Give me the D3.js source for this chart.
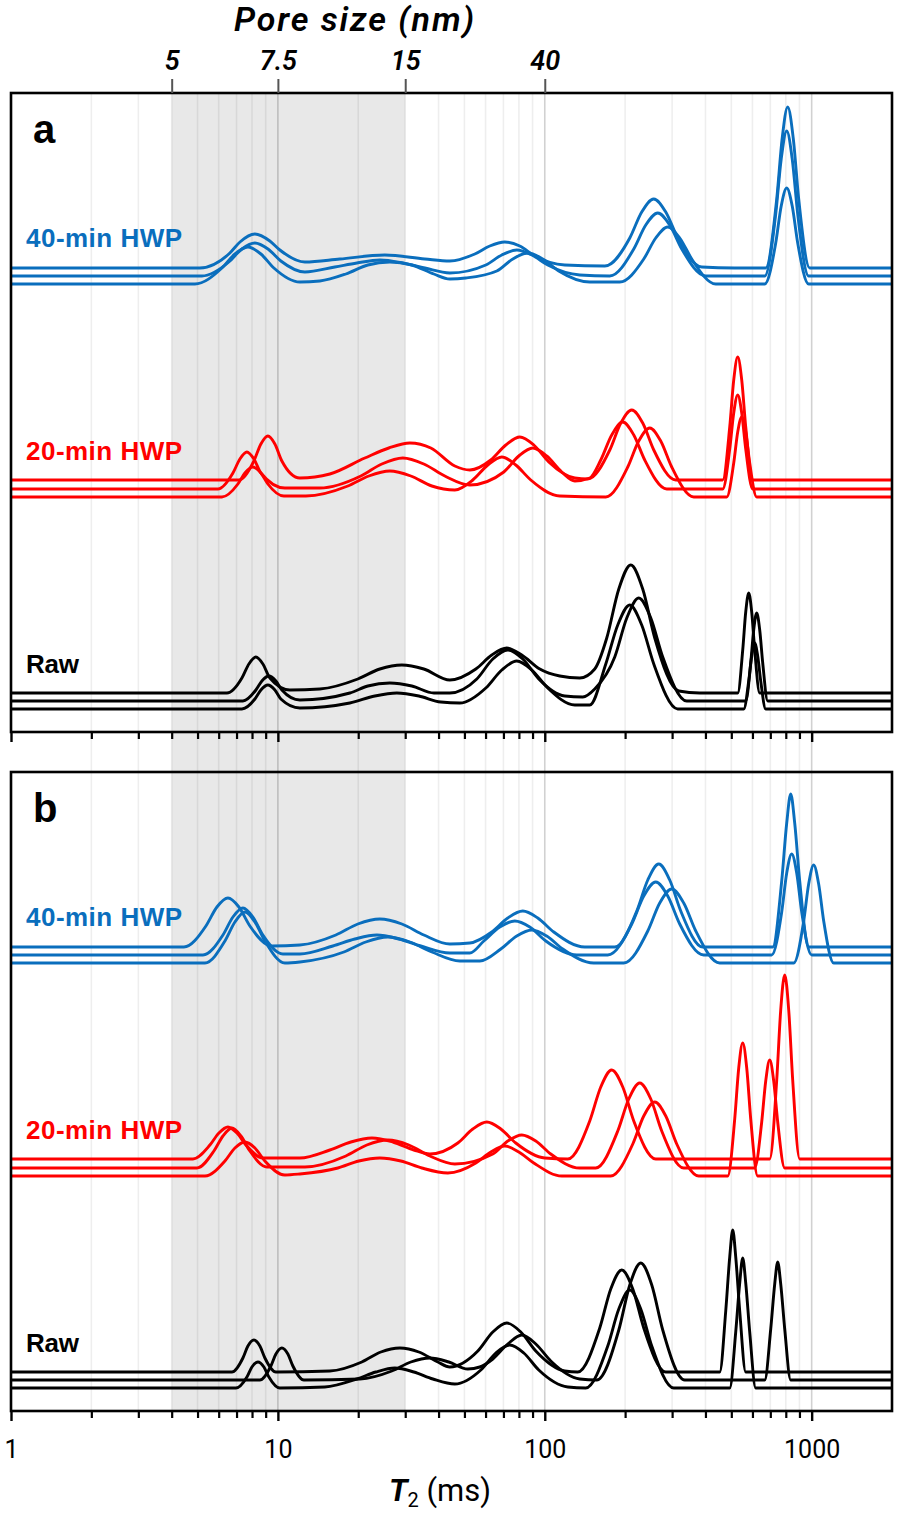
<!DOCTYPE html>
<html><head><meta charset="utf-8">
<script src="https://cdn.jsdelivr.net/npm/d3@7"></script>
<style>html,body{margin:0;padding:0;background:#fff}svg{display:block}</style>
</head><body>
<svg id="chart" width="898" height="1514"></svg>
<script>
// ---------------- data ----------------
const xMajorTicks = [1, 10, 100, 1000];
const xMajorLabels = ["1", "10", "100", "1000"];
const poreTickT2 = [4, 10, 30, 100];
const poreTickLabels = ["5", "7.5", "15", "40"];
const shadeT2 = [4, 30];
const groupNames = ["40-min HWP", "20-min HWP", "Raw"];
const groupColors = ["#0a6ebd", "#ff0000", "#000000"];
// vertical display offsets (a.u.) of the three replicate curves in each group
const offsetsBlue = [464, 456, 448];
const offsetsRed = [252, 243, 235];
const offsetsBlack = [39, 31, 23];

// Panel a — 40-min HWP  [T2 (ms), amplitude (a.u.)]
const a40_1 = [[1,0],[5.10,0],[6.61,15],[7.21,26],[8.20,34],[9.33,27],[10.17,18],[12.62,6],[17.07,9],[25.16,13],[35.53,9],[44.08,7],[54.69,14],[62.23,22],[70.83,26],[80.61,22],[91.75,12],[118.8,3],[167.8,2],[208.2,30],[230.8,56],[256.0,69],[284.0,56],[314.9,30],[387.3,1],[514.9,0],[672.8,0],[739.8,69],[775.7,130],[813.2,161],[852.9,130],[894.2,69],[983,0],[2000,0]];
const a40_2 = [[1,0],[5.19,0],[6.55,14],[7.33,27],[8.20,33],[9.18,27],[10.26,15],[12.62,4],[16.35,9],[19.77,13],[24.10,16],[29.39,13],[35.53,8],[44.08,3],[60.14,11],[69.02,21],[78.55,26],[89.40,21],[102.6,11],[135.2,1],[175.2,0],[215.5,27],[239.0,51],[265.1,63],[293.9,51],[326.0,27],[401.0,0],[667.0,0],[733.4,62],[769.0,117],[806.4,145],[845.6,117],[886.6,62],[974.5,0],[2000,0]];
const a40_3 = [[1,0],[4.888,0],[6.171,16],[6.903,30],[7.721,37],[8.637,30],[9.661,16],[12.09,2],[14.36,3],[17.98,10],[21.73,19],[26.27,22],[31.76,19],[38.41,10],[44.08,5],[50.61,6],[66.11,13],[75.89,25],[86.37,31],[98.29,25],[112.8,13],[147.4,2],[191.0,2],[234.9,25],[260.5,46],[288.9,57],[320.4,46],[355.4,25],[437.1,0],[667.0,0],[733.4,41],[769.0,78],[806.4,96],[845.6,78],[886.6,41],[974.5,0],[2000,0]];
// Panel a — 20-min HWP
const a20_1 = [[1,0],[7.144,0],[8.130,19],[8.637,36],[9.173,44],[9.745,36],[10.35,19],[12.09,2],[15.66,6],[21.17,22],[26.04,32],[31.22,37],[37.42,32],[46.02,14],[52.38,10],[62.77,20],[71.45,35],[80.61,43],[90.96,35],[103.5,18],[129.6,2],[144.9,1],[175.2,30],[192.7,57],[211.8,70],[232.8,57],[256.1,30],[309.6,0],[464.3,0],[493.2,53],[510.5,100],[528.4,123],[547.0,100],[566.2,53],[601.3,0],[2000,0]];
const a20_2 = [[1,0],[5.961,0],[6.785,16],[7.206,30],[7.655,37],[8.130,30],[8.637,16],[10.62,1],[14.36,1],[20.46,13],[24.52,25],[29.39,31],[35.22,25],[42.22,13],[52.38,4],[70.22,17],[79.92,33],[90.18,41],[101.7,33],[115.8,17],[129.6,8],[147.4,11],[162.1,29],[178.2,54],[196.0,67],[215.5,54],[236.9,29],[286.4,0],[464.3,0],[493.2,40],[510.5,76],[528.4,94],[547.0,76],[566.2,40],[601.3,0],[2000,0]];
const a20_3 = [[1,0],[6.171,0],[7.083,13],[7.524,24],[8.061,30],[8.637,24],[9.173,13],[10.53,1],[12.73,1],[18.29,11],[21.92,21],[26.27,26],[31.49,21],[37.75,11],[46.02,7],[53.75,17],[61.17,32],[69.02,40],[77.88,32],[88.63,17],[113.8,1],[169.3,0],[204.6,30],[224.9,56],[247.4,69],[271.9,56],[299.0,30],[361.6,0],[480.6,0],[510.5,34],[528.4,65],[547.0,80],[566.2,65],[586.0,34],[622.4,0],[2000,0]];
// Panel a — Raw
const aRaw_1 = [[1,0],[6.443,0],[7.331,15],[7.787,29],[8.272,36],[8.787,29],[9.333,15],[11.09,3],[14.36,4],[19.93,14],[24.10,24],[29.14,28],[35.22,24],[44.08,13],[55.17,24],[63.31,38],[72.06,45],[82.01,38],[95.79,24],[113.8,17],[135.2,15],[153.9,24],[170.7,55],[189.4,104],[210.0,128],[232.8,104],[258.3,55],[317.6,2],[380.7,0],[528.4,0],[551.7,43],[566.2,81],[581.0,100],[596.2,81],[611.8,43],[638.8,0],[2000,0]];
const aRaw_2 = [[1,0],[7.395,0],[8.272,11],[8.711,20],[9.253,25],[9.830,20],[10.35,11],[12.09,1],[18.61,8],[21.73,15],[26.27,18],[31.76,15],[38.41,8],[44.08,8],[55.64,22],[63.87,42],[72.68,51],[82.73,42],[94.96,22],[118.8,5],[138.8,4],[153.9,12],[182.9,44],[202.9,83],[224.9,103],[249.6,83],[276.7,44],[340.3,0],[566.2,0],[591.1,38],[606.5,71],[622.4,88],[638.8,71],[655.6,38],[684.5,0],[2000,0]];
const aRaw_3 = [[1,0],[7.331,0],[8.201,10],[8.637,19],[9.173,24],[9.745,19],[10.26,10],[12.09,1],[18.61,6],[23.08,13],[27.91,16],[33.74,13],[40.79,7],[48.05,6],[60.14,21],[69.02,39],[78.55,48],[89.40,39],[102.6,21],[129.6,4],[147.4,4],[169.3,45],[187.7,84],[208.2,104],[230.8,84],[256.1,45],[314.9,0],[556.5,0],[581.0,28],[596.2,53],[611.8,66],[627.8,53],[644.4,28],[672.8,0],[2000,0]];

// Panel b — 40-min HWP
const b40_1 = [[1,0],[4.445,0],[5.375,21],[5.910,40],[6.498,49],[7.144,40],[7.855,21],[9.495,1],[12.09,2],[16.49,12],[19.93,23],[24.10,28],[29.14,23],[35.22,12],[44.08,3],[52.38,4],[63.31,15],[72.68,29],[82.73,36],[94.15,29],[108.1,15],[141.2,0],[182.9,0],[221.2,36],[243.2,67],[267.3,83],[293.9,67],[323.2,36],[390.7,0],[714.7,0],[772.3,66],[806.4,124],[834.7,153],[863.9,124],[902.0,66],[974.5,0],[2000,0]];
const b40_2 = [[1,0],[5.238,0],[6.225,20],[6.785,38],[7.395,47],[8.061,38],[8.787,20],[10.44,1],[12.09,1],[16.07,9],[19.43,16],[23.48,20],[28.39,16],[34.33,9],[44.08,2],[52.38,2],[59.11,14],[67.84,28],[77.21,34],[87.87,28],[100.9,14],[131.9,0],[172.2,0],[211.8,31],[234.9,59],[260.5,73],[288.9,59],[320.4,31],[394.1,0],[708.5,0],[772.3,43],[806.4,82],[841.9,101],[878.9,82],[917.7,43],[1000.1,0],[2000,0]];
const b40_3 = [[1,0],[5.329,0],[6.333,22],[6.903,41],[7.524,51],[8.201,41],[8.940,22],[10.62,0],[12.09,1],[17.67,11],[21.35,21],[25.82,26],[31.22,21],[37.75,11],[48.05,2],[57.10,2],[68.43,14],[78.55,27],[89.40,33],[101.7,27],[116.8,14],[152.6,0],[197.7,0],[243.2,32],[269.6,60],[299.0,74],[331.6,60],[367.9,32],[452.4,0],[856.5,0],[933.7,42],[974.5,79],[1017.6,98],[1062.3,79],[1109.4,42],[1209.5,0],[2000,0]];
// Panel b — 20-min HWP
const b20_1 = [[1,0],[4.804,0],[5.564,14],[6.013,26],[6.498,32],[7.023,26],[7.589,14],[8.787,1],[12.09,1],[15.66,9],[18.77,17],[22.50,21],[26.96,17],[32.32,9],[37.10,5],[47.23,16],[53.75,30],[60.66,37],[68.43,30],[77.88,16],[100.0,1],[122.0,0],[147.4,38],[162.1,72],[178.2,89],[196.0,72],[215.5,38],[260.5,0],[696.4,0],[739.8,79],[765.7,149],[792.6,184],[820.4,149],[849.1,79],[902.0,0],[2000,0]];
const b20_2 = [[1,0],[4.973,0],[5.759,17],[6.225,32],[6.726,40],[7.269,32],[7.855,17],[9.095,1],[12.62,1],[17.98,12],[21.54,23],[25.82,28],[30.95,23],[37.10,12],[46.02,4],[63.87,14],[72.68,27],[82.01,33],[92.55,27],[105.3,14],[135.2,0],[155.2,0],[187.7,37],[206.4,69],[226.9,85],[249.6,69],[274.3,37],[331.6,0],[611.8,0],[649.9,46],[672.8,87],[696.4,108],[720.8,87],[746.1,46],[792.6,0],[2000,0]];
const b20_3 = [[1,0],[5.329,0],[6.333,15],[6.903,28],[7.524,34],[8.201,28],[8.940,15],[10.62,1],[12.09,2],[16.78,8],[20.11,15],[24.10,18],[28.89,15],[34.62,8],[43.33,3],[55.17,13],[62.77,24],[70.83,30],[79.92,24],[90.96,13],[115.8,0],[176.7,0],[213.7,32],[234.9,60],[258.3,74],[284.0,60],[312.2,32],[377.4,0],[484.8,0],[514.9,57],[533.0,108],[551.7,133],[571.1,108],[591.1,57],[627.8,0],[2000,0]];
// Panel b — Raw
const bRaw_1 = [[1,0],[6.726,0],[7.395,14],[7.721,26],[8.130,32],[8.562,26],[8.940,14],[9.830,0],[15.66,1],[20.63,10],[24.31,20],[28.64,24],[33.74,20],[39.75,10],[44.08,5],[56.12,21],[63.87,40],[72.06,49],[81.31,40],[92.55,21],[118.8,1],[132.9,0],[160.7,44],[176.7,83],[194.3,102],[213.7,83],[234.9,44],[284.0,0],[452.4,0],[476.5,61],[493.2,115],[506.1,142],[519.4,115],[537.6,61],[566.2,0],[2000,0]];
const bRaw_2 = [[1,0],[8.562,0],[9.414,14],[9.830,26],[10.35,32],[10.90,26],[11.38,14],[12.51,0],[20.28,1],[26.73,9],[31.49,18],[37.10,22],[43.70,18],[51.48,11],[57.10,13],[63.87,21],[72.68,36],[82.01,45],[92.55,36],[105.3,19],[135.2,1],[156.6,0],[189.4,50],[208.2,95],[228.9,117],[251.7,95],[276.7,50],[334.5,0],[667.0,0],[702.5,51],[727.1,96],[746.1,118],[765.7,96],[792.6,51],[834.7,0],[2000,0]];
const bRaw_3 = [[1,0],[6.963,0],[7.655,11],[7.992,21],[8.416,26],[8.863,21],[9.253,11],[10.17,0],[14.99,1],[19.77,9],[23.28,16],[27.43,20],[32.32,16],[38.08,9],[46.02,4],[57.60,18],[65.55,35],[73.95,43],[83.44,35],[94.96,18],[122.0,1],[142.4,0],[172.2,42],[189.4,79],[208.2,98],[228.9,79],[251.7,42],[304.3,0],[493.2,0],[519.4,56],[537.6,105],[551.7,130],[566.2,105],[586.0,56],[617.1,0],[2000,0]];

// ---------------- layout ----------------
const W = 898, H = 1514;
const left = 11, right = 892;
const panels = [
  { letter: "a", top: 93, bottom: 732, labels: false,
    series: [[a40_1, a40_2, a40_3], [a20_1, a20_2, a20_3], [aRaw_1, aRaw_2, aRaw_3]] },
  { letter: "b", top: 772, bottom: 1411, labels: true,
    series: [[b40_1, b40_2, b40_3], [b20_1, b20_2, b20_3], [bRaw_1, bRaw_2, bRaw_3]] }
];
const groupOffsets = [offsetsBlue, offsetsRed, offsetsBlack];
const labelDy = [154, 367, 580]; // label baselines relative to panel top

const svg = d3.select("#chart");
svg.append("rect").attr("width", W).attr("height", H).attr("fill", "#fff");

const x = d3.scaleLog().domain([1, 2000]).range([left, right]);

const allTicks = [];
[1, 10, 100, 1000].forEach(d => { for (let k = 1; k <= 9; k++) { const v = d * k; if (v < 2000) allTicks.push(v); } });
const minorTicks = allTicks.filter(v => !xMajorTicks.includes(v));

const topY = panels[0].top, botY = panels[1].bottom;

// shaded band
svg.append("rect")
  .attr("x", x(shadeT2[0])).attr("y", topY)
  .attr("width", x(shadeT2[1]) - x(shadeT2[0])).attr("height", botY - topY)
  .attr("fill", "#e8e8e8");

// vertical grid lines
svg.append("g").selectAll("line").data(allTicks.filter(v => v > 1)).join("line")
  .attr("x1", d => x(d)).attr("x2", d => x(d))
  .attr("y1", topY).attr("y2", botY)
  .attr("stroke", d => xMajorTicks.includes(d) ? "rgba(0,0,0,0.18)" : "rgba(0,0,0,0.065)")
  .attr("stroke-width", 1.6);

panels.forEach(p => {
  const y = d3.scaleLinear().domain([0, p.bottom - p.top]).range([p.bottom, p.top]);
  const g = svg.append("g");
  p.series.forEach((grp, gi) => {
    grp.forEach((s, si) => {
      const off = groupOffsets[gi][si];
      const line = d3.line().x(d => x(d[0])).y(d => y(off + d[1])).curve(d3.curveMonotoneX);
      g.append("path").datum(s).attr("d", line)
        .attr("fill", "none").attr("stroke", groupColors[gi])
        .attr("stroke-width", 2.9).attr("stroke-linejoin", "round");
    });
    g.append("text").attr("x", 26).attr("y", p.top + labelDy[gi])
      .attr("fill", groupColors[gi])
      .attr("font-family", "'Liberation Sans', Arial, sans-serif")
      .attr("font-weight", "bold").attr("font-size", 26)
      .attr("textLength", groupNames[gi].length > 3 ? 156 : 53).attr("lengthAdjust", "spacing")
      .text(groupNames[gi]);
  });
  svg.append("rect").attr("x", left).attr("y", p.top)
    .attr("width", right - left).attr("height", p.bottom - p.top)
    .attr("fill", "none").attr("stroke", "#000").attr("stroke-width", 2.6);
  svg.append("text").attr("x", 33).attr("y", p.top + 50)
    .attr("font-family", "'Liberation Sans', Arial, sans-serif")
    .attr("font-weight", "bold").attr("font-size", 40).attr("fill", "#000")
    .text(p.letter);
  const minorAxis = svg.append("g").attr("transform", `translate(0,${p.bottom})`)
    .call(d3.axisBottom(x).tickValues(minorTicks).tickSize(7).tickFormat(""));
  minorAxis.select(".domain").remove();
  minorAxis.selectAll("line").attr("stroke", "#000").attr("stroke-width", 2.2);
  const majorAxis = svg.append("g").attr("transform", `translate(0,${p.bottom})`)
    .call(d3.axisBottom(x).tickValues(xMajorTicks).tickSize(10).tickPadding(19)
      .tickFormat((d, i) => p.labels ? xMajorLabels[i] : ""));
  majorAxis.select(".domain").remove();
  majorAxis.selectAll("line").attr("stroke", "#000").attr("stroke-width", 2.4);
  majorAxis.selectAll("text").attr("font-family", "Roboto, sans-serif")
    .attr("font-size", 25).attr("fill", "#000");
});

// top pore-size axis
const topAxis = svg.append("g").attr("transform", `translate(0,${topY})`)
  .call(d3.axisTop(x).tickValues(poreTickT2).tickSize(14).tickPadding(9)
    .tickFormat((d, i) => poreTickLabels[i]));
topAxis.select(".domain").remove();
topAxis.selectAll("line").attr("stroke", "#555").attr("stroke-width", 2);
topAxis.selectAll("text").attr("font-family", "Roboto, sans-serif")
  .attr("font-style", "italic").attr("font-weight", 600)
  .attr("font-size", 27).attr("fill", "#000");

svg.append("text").attr("x", 354).attr("y", 31).attr("text-anchor", "middle")
  .attr("font-family", "Roboto, sans-serif").attr("font-style", "italic")
  .attr("font-weight", 600).attr("font-size", 34)
  .attr("textLength", 240).attr("lengthAdjust", "spacing")
  .text("Pore size (nm)");

const t = svg.append("text").attr("x", 440).attr("y", 1501).attr("text-anchor", "middle")
  .attr("font-family", "Roboto, sans-serif").attr("font-size", 31).attr("fill", "#000");
t.append("tspan").attr("font-weight", "bold").attr("font-style", "italic").text("T");
t.append("tspan").attr("font-size", 20).attr("dy", 6).text("2");
t.append("tspan").attr("dy", -6).text(" (ms)");
</script>
</body></html>
